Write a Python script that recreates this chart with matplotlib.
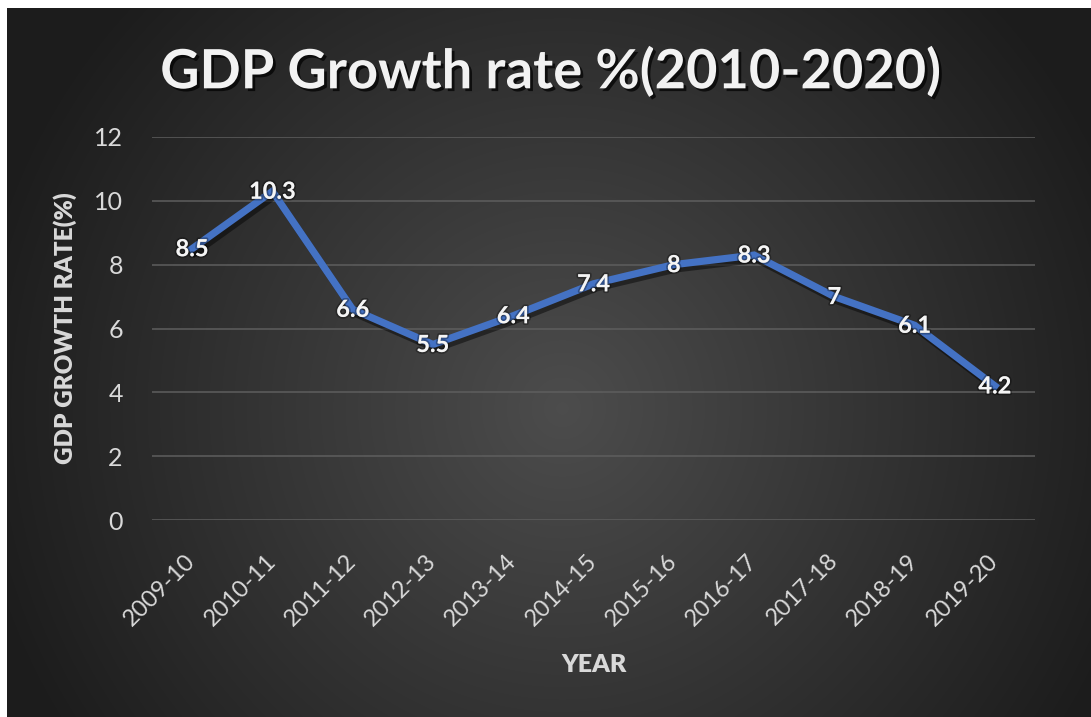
import numpy as np
import matplotlib
matplotlib.use("Agg")
import matplotlib.pyplot as plt
import matplotlib.patheffects as pe
from matplotlib.transforms import ScaledTranslation

years = ["2009-10", "2010-11", "2011-12", "2012-13", "2013-14", "2014-15",
         "2015-16", "2016-17", "2017-18", "2018-19", "2019-20"]
growth = [8.5, 10.3, 6.6, 5.5, 6.4, 7.4, 8, 8.3, 7, 6.1, 4.2]
value_labels = ["8.5", "10.3", "6.6", "5.5", "6.4", "7.4", "8", "8.3", "7", "6.1", "4.2"]
y_ticks = [0, 2, 4, 6, 8, 10, 12]

plt.rcParams['font.family'] = ['Lato', 'DejaVu Sans']

W, H = 1091, 717
fig = plt.figure(figsize=(W / 100, H / 100), dpi=100)
fig.patch.set_facecolor('white')

# dark radial background (Excel "dark" chart style)
bg = fig.add_axes([7 / W, 0, 1 - 7 / W, 1 - 8 / H])
bw, bh = W - 7, H - 8
yy, xx = np.mgrid[0:bh, 0:bw]
r = np.hypot((xx - 555) / 600, (yy - 400) / 600)
r = np.clip(r, 0, 1)
shade = 0.30 - 0.19 * r
img = np.dstack([shade, shade, shade])
bg.imshow(img, aspect='auto', interpolation='bilinear')
bg.set_axis_off()

ax = fig.add_axes([152 / W, 1 - 520 / H, (1035 - 152) / W, (520 - 137) / H])
ax.set_facecolor('none')
x = np.arange(len(years))

ax.plot(x, growth, color='#4472C4', lw=5.2, solid_joinstyle='miter', zorder=3,
        path_effects=[pe.SimpleLineShadow(offset=(2, -3), alpha=0.45, shadow_color='black'),
                      pe.Normal()])

for xi, yi, lab in zip(x, growth, value_labels):
    ax.text(xi, yi, lab, ha='center', va='center', color='#F5F5F5', fontsize=17,
            fontweight='bold', zorder=4,
            path_effects=[pe.withStroke(linewidth=2.5, foreground=(0, 0, 0, 0.3))])

ax.set_xlim(-0.5, len(years) - 0.5)
ax.set_ylim(0, 12)
ax.set_yticks(y_ticks)
ax.set_xticks(x)
ax.set_xticklabels(years, rotation=45, ha='right', va='center', rotation_mode='anchor')
for lbl in ax.get_xticklabels():
    lbl.set_transform(lbl.get_transform() + ScaledTranslation(0.13, 0, fig.dpi_scale_trans))
ax.tick_params(axis='x', length=0, pad=27, labelsize=17, labelcolor='#D9D9D9')
ax.tick_params(axis='y', length=0, pad=21, labelsize=18, labelcolor='#D9D9D9')
ax.grid(axis='y', color='#5E5E5E', lw=1.1)
ax.set_axisbelow(True)
for s in ax.spines.values():
    s.set_visible(False)

ax.set_ylabel("GDP GROWTH RATE(%)", color='#D9D9D9', fontsize=17.5, fontweight='heavy',
              labelpad=12)
ax.set_xlabel("YEAR", color='#D9D9D9', fontsize=18, fontweight='heavy', labelpad=18)

fig.text(550 / W, 1 - 72 / H, "GDP Growth rate %(2010-2020)", ha='center', va='center',
         color='#F2F2F2', fontsize=39, fontweight='bold',
         path_effects=[pe.withSimplePatchShadow(offset=(2, -2), alpha=0.7, shadow_rgbFace='black')])

fig.savefig("out.png", dpi=100, facecolor=fig.get_facecolor())
